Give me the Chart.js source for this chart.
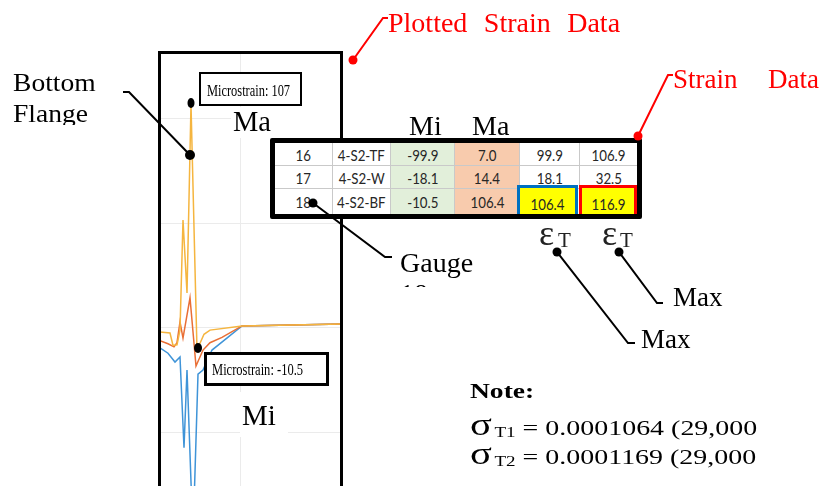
<!DOCTYPE html>
<html><head><meta charset="utf-8">
<script src="https://cdn.jsdelivr.net/npm/chart.js@4.4.0/dist/chart.umd.min.js"></script>
<style>
html,body{margin:0;padding:0;background:#fff;}
#stage{position:relative;width:821px;height:486px;overflow:hidden;background:#fff;font-family:"Liberation Serif","Times New Roman",serif;color:#000;}
.a{position:absolute;white-space:nowrap;transform-origin:0 0;}
.red{color:#ff0000;}
#chartWrap{position:absolute;left:160px;top:52px;width:182px;height:434px;z-index:1;}
#frame{position:absolute;left:158px;top:51px;width:185px;height:470px;border:3px solid #000;box-sizing:border-box;z-index:3;}
.wbox{position:absolute;background:#fff;z-index:2;}
.mbox{position:absolute;background:#fff;border:2.5px solid #000;box-sizing:border-box;z-index:4;}
#tbl{position:absolute;left:270px;top:138px;width:372px;height:81px;border:5px solid #000;border-radius:2px;box-sizing:border-box;background:#fff;z-index:4;}
.cell{position:absolute;box-sizing:border-box;display:flex;align-items:center;justify-content:center;white-space:nowrap;overflow:visible;font-family:Lato,"Open Sans",sans-serif;font-size:16px;color:#262626;}
.cell span{display:inline-block;white-space:nowrap;transform:scaleX(0.83);}
.hl{position:absolute;box-sizing:border-box;background:#ffff00;display:flex;align-items:center;justify-content:center;white-space:nowrap;font-family:Lato,"Open Sans",sans-serif;font-size:16px;color:#262626;}
.hl span{display:inline-block;white-space:nowrap;transform:scaleX(0.83);}
#lines{position:absolute;left:0;top:0;z-index:6;}
.t{z-index:7;}
</style></head>
<body>
<div id="stage">
  <div id="chartWrap"><canvas id="c" width="182" height="434"></canvas></div>
  <div class="wbox" style="left:231px;top:107px;width:110px;height:31px;"></div>
  <div class="wbox" style="left:240px;top:392px;width:48px;height:45px;"></div>
  <div id="frame"></div>

  <div class="a t red" style="left:388px;top:8.5px;font-size:28px;line-height:28px;word-spacing:9.5px;">Plotted Strain Data</div>
  <div class="a t red" style="left:673px;top:66.4px;font-size:27px;line-height:27px;word-spacing:23.7px;">Strain Data</div>

  <div class="a t" style="left:0;top:60px;width:130px;height:65px;overflow:hidden;">
    <div class="a" style="left:13px;top:10.2px;font-size:26px;line-height:26px;transform:scaleX(1.06);">Bottom</div>
    <div class="a" style="left:13px;top:41.2px;font-size:26px;line-height:26px;transform:scaleX(1.06);">Flange</div>
  </div>

  <div class="mbox" style="left:199px;top:72px;width:103px;height:34px;"></div>
  <div class="a t" style="left:207px;top:81.8px;font-size:17px;line-height:17px;transform:scaleX(0.73);">Microstrain: 107</div>
  <div class="a t" style="left:233px;top:108.1px;font-size:28.5px;line-height:28.5px;">Ma</div>

  <div class="a t" style="left:409px;top:111.5px;font-size:28px;line-height:28px;">Mi</div>
  <div class="a t" style="left:472px;top:111.5px;font-size:28px;line-height:28px;">Ma</div>

  <div id="tbl"></div>

  <div class="mbox" style="left:204px;top:352px;width:125px;height:34px;border-width:3px;"></div>
  <div class="a t" style="left:212px;top:361.3px;font-size:17.5px;line-height:17.5px;transform:scaleX(0.715);">Microstrain: -10.5</div>
  <div class="a t" style="left:242px;top:400.7px;font-size:29px;line-height:29px;">Mi</div>

  <div class="a t" style="left:395px;top:240px;width:100px;height:47px;overflow:hidden;">
    <div class="a" style="left:5px;top:8.5px;font-size:28px;line-height:28px;">Gauge</div>
    <div class="a" style="left:5px;top:39.5px;font-size:28px;line-height:28px;">18</div>
  </div>

  <div class="a t" style="left:539px;top:222.9px;font-size:36px;line-height:20px;color:#222;">ε</div>
  <div class="a t" style="left:558px;top:231.5px;font-size:21px;line-height:16px;color:#222;">T</div>
  <div class="a t" style="left:602px;top:222.9px;font-size:36px;line-height:20px;color:#222;">ε</div>
  <div class="a t" style="left:620px;top:231.5px;font-size:21px;line-height:16px;color:#222;">T</div>

  <div class="a t" style="left:673px;top:284.4px;font-size:27px;line-height:27px;">Max</div>
  <div class="a t" style="left:641px;top:326.4px;font-size:27px;line-height:27px;">Max</div>

  <div class="a t" style="left:470px;top:381px;font-size:21.5px;line-height:21.5px;font-weight:bold;transform:scaleX(1.28);">Note:</div>
  <div class="a t" style="left:470px;top:417.6px;font-size:22px;line-height:20px;transform:scaleX(1.27);"><span style="font-size:32px;line-height:0;margin-right:2px;">σ</span><span style="font-size:15px;line-height:0;position:relative;top:2px;">T1</span> = 0.0001064 (29,000</div>
  <div class="a t" style="left:470px;top:446.6px;font-size:22px;line-height:20px;transform:scaleX(1.27);"><span style="font-size:32px;line-height:0;margin-right:2px;">σ</span><span style="font-size:15px;line-height:0;position:relative;top:2px;">T2</span> = 0.0001169 (29,000</div>

  <svg id="lines" width="821" height="486" viewBox="0 0 821 486">
    <g fill="none" stroke="#000" stroke-width="2">
      <polyline points="123,92 129,92 190,155"/>
      <polyline points="313,203 385,257 392,257"/>
      <polyline points="557,252 628,343 635,343"/>
      <polyline points="619,252 657,303 663,303"/>
    </g>
    <g fill="none" stroke="#ff0000" stroke-width="2">
      <polyline points="353,60 383,18 388,18"/>
      <polyline points="638,136 668,75 673,75"/>
    </g>
    <g fill="#000">
      <ellipse cx="191" cy="103" rx="3.5" ry="5"/>
      <circle cx="190" cy="155" r="5"/>
      <circle cx="313" cy="203" r="4.5"/>
      <ellipse cx="198" cy="348" rx="4" ry="5"/>
      <circle cx="557" cy="252" r="4.5"/>
      <circle cx="619" cy="252" r="4.5"/>
    </g>
    <g fill="#ff0000">
      <circle cx="353" cy="60" r="4.5"/>
      <circle cx="638" cy="136" r="4.5"/>
    </g>
  </svg>
</div>
<script>
// ---- Strain time histories (time in arbitrary units, microstrain) ----
const timeBF = [0, 10, 13, 17, 20, 23, 27, 31, 37, 44, 50, 82, 182];
const strainBF = [-1.9, -2.4, -8.3, -8.0, -1.0, 51.4, 16.7, 106.4, -10.5, -3.0, -1.0, 1.0, 1.9];
const timeW = [0, 8, 14, 17, 20, 23, 30, 36, 43, 50, 62, 82, 182];
const strainW = [-6.0, -7.5, -9.0, -7.0, 2.9, -4.8, 14.4, -18.1, -10.5, -7.0, -4.5, 1.0, 1.9];
const timeTF = [0, 8, 15, 20, 24, 27, 33, 38, 43, 52, 82, 182];
const strainTF = [-9.5, -12.0, -16.2, -13.8, -57.0, -20.0, -99.9, -22.0, -20.0, -10.5, 1.0, 1.9];
const yGridTicks = [-50, 0, 50, 100];
const xGridTicks = [80];

// ---- Strain data table ----
const gauges = [16, 17, 18];
const gaugeNames = ['4-S2-TF', '4-S2-W', '4-S2-BF'];
const minStrain = [-99.9, -18.1, -10.5];
const maxStrain = [7.0, 14.4, 106.4];
const maxAbsStrain = [99.9, 18.1, 106.4];
const strainRange = [106.9, 32.5, 116.9];

function pts(t, v) { return t.map((x, i) => ({ x: x, y: v[i] })); }

new Chart(document.getElementById('c'), {
  type: 'line',
  data: {
    datasets: [
      { label: 'Gauge 18 (4-S2-BF)', data: pts(timeBF, strainBF), borderColor: '#f5b53f', borderWidth: 1.5, pointRadius: 0, tension: 0 },
      { label: 'Gauge 17 (4-S2-W)', data: pts(timeW, strainW), borderColor: '#e96f35', borderWidth: 1.5, pointRadius: 0, tension: 0 },
      { label: 'Gauge 16 (4-S2-TF)', data: pts(timeTF, strainTF), borderColor: '#3f94d8', borderWidth: 1.5, pointRadius: 0, tension: 0 }
    ]
  },
  options: {
    responsive: false, animation: false,
    layout: { padding: 0 },
    plugins: { legend: { display: false }, tooltip: { enabled: false } },
    scales: {
      x: { type: 'linear', min: 0, max: 182,
        ticks: { display: false }, border: { display: false },
        grid: { color: '#ebebeb', drawTicks: false },
        afterBuildTicks: s => { s.ticks = xGridTicks.map(v => ({ value: v })); } },
      y: { type: 'linear', min: -75.24, max: 131.43,
        ticks: { display: false }, border: { display: false },
        grid: { color: '#ebebeb', drawTicks: false },
        afterBuildTicks: s => { s.ticks = yGridTicks.map(v => ({ value: v })); } }
    }
  }
});

// build table
const colX = [275, 333, 391, 455, 520, 580, 637];
const rowY = [143, 166, 189, 214];
const colBg = ['#fff', '#fff', '#e2efda', '#f8cbad', '#fff', '#fff'];
const tbl = document.getElementById('tbl');
const ox = 275, oy = 143;
for (let r = 0; r < 3; r++) {
  const vals = [String(gauges[r]), gaugeNames[r], minStrain[r].toFixed(1), maxStrain[r].toFixed(1), maxAbsStrain[r].toFixed(1), strainRange[r].toFixed(1)];
  for (let c = 0; c < 6; c++) {
    const d = document.createElement('div');
    d.className = 'cell';
    d.style.left = (colX[c] - ox) + 'px';
    d.style.top = (rowY[r] - oy) + 'px';
    d.style.width = (colX[c + 1] - colX[c]) + 'px';
    d.style.height = (rowY[r + 1] - rowY[r]) + 'px';
    d.style.background = colBg[c];
    d.style.borderRight = c < 5 ? '1px solid #c9c9c9' : 'none';
    d.style.borderBottom = r < 2 ? '1px solid #c9c9c9' : 'none';
    const s = document.createElement('span');
    s.textContent = vals[c];
    d.appendChild(s);
    tbl.appendChild(d);
  }
}
// highlighted cells (row 3, last two columns)
const hls = [{ l: 517, w: 61, col: '#0070c0', v: maxAbsStrain[2] }, { l: 579, w: 58, col: '#ff0000', v: strainRange[2] }];
hls.forEach(h => {
  const d = document.createElement('div');
  d.className = 'hl';
  d.style.left = (h.l - ox) + 'px';
  d.style.top = (185 - oy) + 'px';
  d.style.width = h.w + 'px';
  d.style.height = (214 - 185) + 'px';
  d.style.border = '3.5px solid ' + h.col;
  d.style.borderBottom = 'none';
  const s = document.createElement('span');
  s.textContent = h.v.toFixed(1);
  s.style.marginTop = '4px';
  d.appendChild(s);
  tbl.appendChild(d);
});
</script>
</body></html>
